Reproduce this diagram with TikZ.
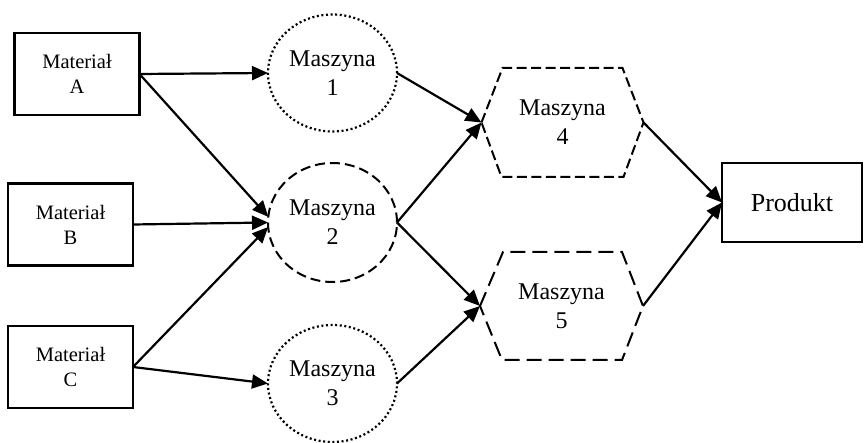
\documentclass[tikz,border=0pt]{standalone}
\usepackage{fontspec}
\setmainfont{Liberation Serif}
\usetikzlibrary{arrows.meta,shapes.geometric}
\begin{document}
\begin{tikzpicture}[x=1pt,y=-1pt,
  every node/.style={inner sep=0pt,outer sep=0pt},
  matbox/.style={draw,line width=2.2pt,rectangle,minimum width=125pt,minimum height=82pt,align=center,font=\fontsize{20.5}{25}\selectfont},
  machdot/.style={draw,ellipse,line width=2.2pt,dash pattern=on 2pt off 2.6pt,minimum width=129pt,minimum height=117pt,align=center,font=\fontsize{24}{29}\selectfont},
  machdash/.style={draw,ellipse,line width=2pt,dash pattern=on 10pt off 5pt,minimum width=129pt,minimum height=119pt,align=center,font=\fontsize{24}{29}\selectfont},
  hexnode/.style={rectangle,minimum width=162pt,minimum height=109pt,align=center,font=\fontsize{24}{29}\selectfont},
  hexline/.style={line width=2pt},
  prodbox/.style={draw,line width=2.2pt,rectangle,minimum width=140pt,minimum height=79pt,font=\fontsize{26}{30}\selectfont},
  arr/.style={line width=2.2pt,-{Triangle[length=16pt,width=14pt]}}
]
\useasboundingbox (0,0) rectangle (865,443);

\node[matbox] (ma) at (77,74) {Materiał\\A};
\node[matbox] (mb) at (70.5,224.5) {Materiał\\B};
\node[matbox] (mc) at (70.5,367) {Materiał\\C};

\node[machdot] (m1) at (332.5,73) {Maszyna\\1};
\node[machdash] (m2) at (332.5,222.5) {Maszyna\\2};
\node[machdot] (m3) at (332.5,383.5) {Maszyna\\3};

\node[hexnode] (m4) at (562.5,122.5) {Maszyna\\4};
\draw[hexline,dash pattern=on 10pt off 4.5pt]
  (m4.west) -- ([xshift=21pt]m4.north west) -- ([xshift=-21pt]m4.north east)
  -- (m4.east) -- ([xshift=-20pt]m4.south east) -- ([xshift=20pt]m4.south west) -- cycle;

\node[hexnode,minimum width=163pt,minimum height=108pt] (m5) at (561.5,306) {Maszyna\\5};
\draw[hexline,dash pattern=on 15pt off 7pt]
  (m5.west) -- ([xshift=23pt]m5.north west) -- ([xshift=-21pt]m5.north east)
  -- (m5.east) -- ([xshift=-21pt]m5.south east) -- ([xshift=22pt]m5.south west) -- cycle;

\node[prodbox] (pr) at (792,202.5) {Produkt};

\draw[arr] (ma.east) -- (m1.west);
\draw[arr] (ma.east) -- (m2.175);
\draw[arr] (mb.east) -- (m2.west);
\draw[arr] (mc.east) -- (m2.184);
\draw[arr] (mc.east) -- (m3.west);

\draw[arr] (m1.east) -- (m4.west);
\draw[arr] (m2.east) -- (m4.west);
\draw[arr] (m2.east) -- (m5.west);
\draw[arr] (m3.east) -- (m5.west);

\draw[arr] (m4.east) -- (pr.west);
\draw[arr] (m5.east) -- (pr.west);
\end{tikzpicture}
\end{document}
